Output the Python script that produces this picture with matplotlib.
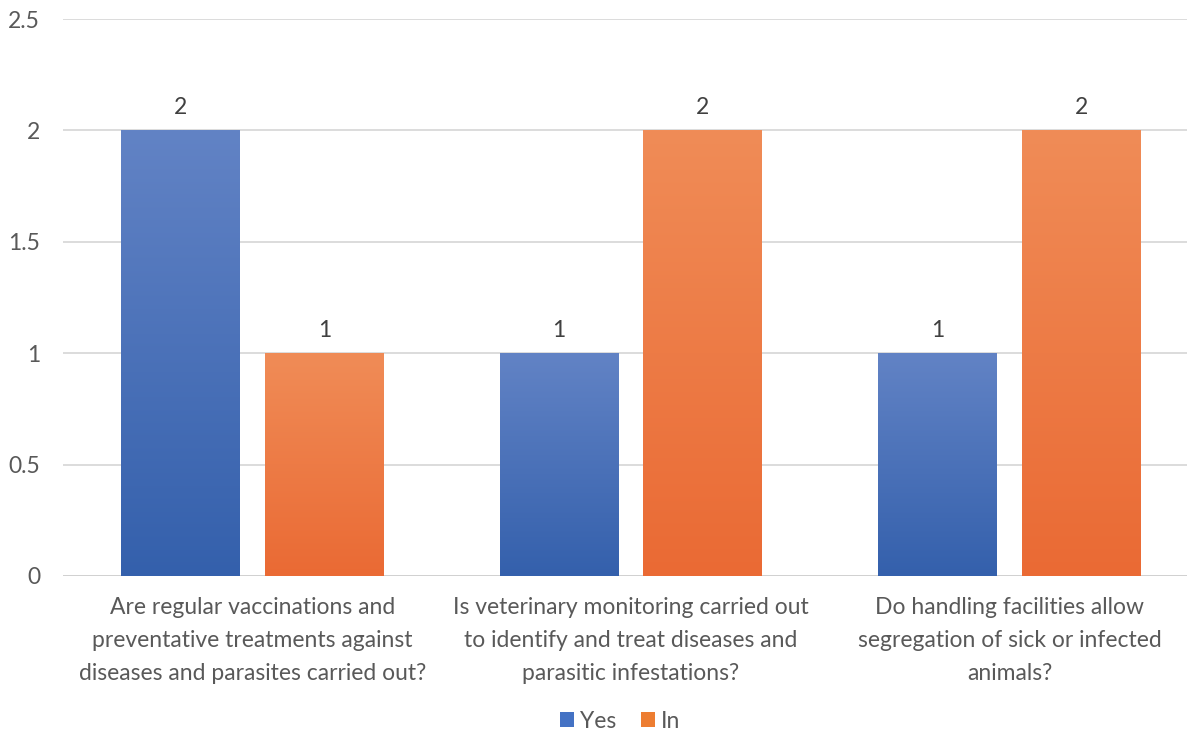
import numpy as np
import matplotlib
matplotlib.use("Agg")
import matplotlib.pyplot as plt
from matplotlib.colors import LinearSegmentedColormap
from matplotlib.patches import Patch

categories = [
    "Are regular vaccinations and\npreventative treatments against\ndiseases and parasites carried out?",
    "Is veterinary monitoring carried out\nto identify and treat diseases and\nparasitic infestations?",
    "Do handling facilities allow\nsegregation of sick or infected\nanimals?",
]
series_names = ["Yes", "In"]
yes_values = [2, 1, 1]
in_values = [1, 2, 2]
y_ticks = [0, 0.5, 1, 1.5, 2, 2.5]

plt.rcParams["font.family"] = ["Lato", "DejaVu Sans"]
text_color = "#595959"
fs = 16.5

fig = plt.figure(figsize=(11.87, 7.34), dpi=100)
ax = fig.add_axes([63 / 1187, 158 / 734, 1136 / 1187, 557 / 734])

x = np.arange(len(categories))
width = 0.314
offset = 0.19

blue_cmap = LinearSegmentedColormap.from_list("blue", ["#6283C5", "#3460AC"])
orange_cmap = LinearSegmentedColormap.from_list("orange", ["#F08C57", "#EA6A34"])

ax.set_xlim(-0.5, 2.5)
ax.set_ylim(0, 2.5)


def gradient_bars(positions, values, cmap):
    bars = ax.bar(positions, values, width, color="none", zorder=3)
    grad = np.linspace(0, 1, 256).reshape(-1, 1)
    for b in bars:
        x0, y0 = b.get_x(), b.get_y()
        w, h = b.get_width(), b.get_height()
        img = ax.imshow(grad, cmap=cmap, aspect="auto",
                        extent=(x0, x0 + w, y0, y0 + h),
                        origin="upper", zorder=3)
        img.set_clip_path(b)
    return bars


bars_yes = gradient_bars(x - offset, yes_values, blue_cmap)
bars_in = gradient_bars(x + offset, in_values, orange_cmap)

for bars in (bars_yes, bars_in):
    ax.bar_label(bars, padding=9, fontsize=fs, color="#404040")

ax.set_yticks(y_ticks)
ax.set_yticklabels([f"{t:g}" for t in y_ticks])
ax.yaxis.grid(True, color="#D9D9D9", linewidth=1.3, zorder=0)
ax.set_axisbelow(True)
ax.set_xticks(x)
ax.set_xticklabels(categories, linespacing=1.72)
ax.tick_params(axis="both", length=0, labelsize=fs, labelcolor=text_color)
ax.tick_params(axis="y", pad=16.5)
ax.tick_params(axis="x", pad=15)
for s in ax.spines.values():
    s.set_visible(False)
ax.axhline(0, color="#D0D0D0", linewidth=1.3, zorder=2)

handles = [Patch(facecolor="#4472C4", label=series_names[0]),
           Patch(facecolor="#ED7D31", label=series_names[1])]
fig.legend(handles=handles, loc="center", bbox_to_anchor=(620 / 1187, 1 - 721 / 734),
           ncol=2, frameon=False, fontsize=fs, labelcolor=text_color,
           handlelength=0.6, handleheight=0.6, handletextpad=0.25, columnspacing=1.1)

fig.savefig("out.png", dpi=100)
